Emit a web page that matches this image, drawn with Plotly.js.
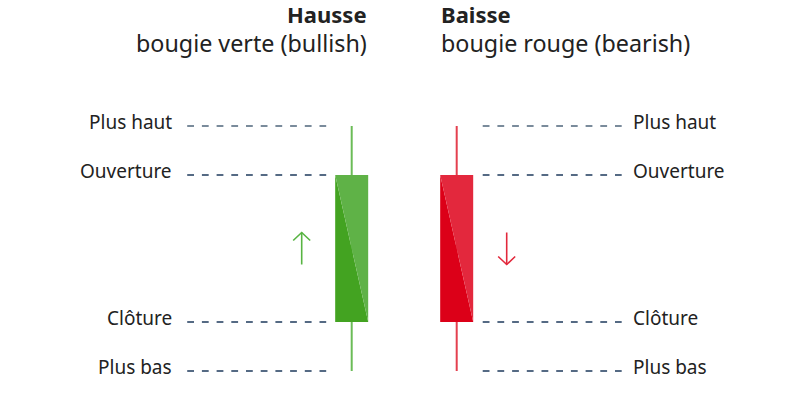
<!DOCTYPE html>
<html>
<head>
<meta charset="utf-8">
<script src="https://cdn.plot.ly/plotly-3.0.1.min.js"></script>
<style>
  html, body { margin: 0; padding: 0; background: #fff; }
  #chart { width: 800px; height: 400px; }
</style>
</head>
<body>
<div id="chart"></div>
<script>
// Candle anatomy: one bullish and one bearish candle with labelled price levels.

const levelLabels = ["Plus haut", "Ouverture", "Clôture", "Plus bas"];
const levelValues = [10, 9, 6, 5];

const candleNames = ["Hausse", "Baisse"];
const candleSubtitles = ["bougie verte (bullish)", "bougie rouge (bearish)"];
const candlePos = [0, 1];
const candleHigh = [10, 10];
const candleOpen = [9, 9];
const candleClose = [6, 6];
const candleLow = [5, 5];
const candleDir = ["up", "down"];

// scale helpers: px per axis unit (x: candle spacing, y: one price unit)
const PX_X = 105;
const PX_Y = 49;
const px = (v) => v / PX_X;
const py = (v) => v / PX_Y;

const FONT = "'Noto Sans', 'Open Sans', sans-serif";
const TEXT = "#222";

const STYLE = [
  { dark: "#43a321", light: "#5fb247", wick: "#6bbc57", arrow: "#58b443" },
  { dark: "#dc0018", light: "#e3283d", wick: "#e4404f", arrow: "#e2283c" },
];

const traces = [];

candlePos.forEach((c, i) => {
  const s = STYLE[i];
  const half = px(16.5);
  const L = c - half;
  const R = c + half;
  const top = Math.max(candleOpen[i], candleClose[i]);
  const bot = Math.min(candleOpen[i], candleClose[i]);

  // wick
  traces.push({
    x: [c, c],
    y: [candleLow[i], candleHigh[i]],
    type: "scatter",
    mode: "lines",
    line: { color: s.wick, width: 2 },
    hoverinfo: "skip",
  });
  // body: darker lower-left half, lighter upper-right half
  traces.push({
    x: [L, L, R, L],
    y: [top, bot, bot, top],
    type: "scatter",
    mode: "lines",
    fill: "toself",
    fillcolor: s.dark,
    line: { width: 0 },
    hoverinfo: "skip",
  });
  traces.push({
    x: [L, R, R, L],
    y: [top, top, bot, top],
    type: "scatter",
    mode: "lines",
    fill: "toself",
    fillcolor: s.light,
    line: { width: 0 },
    hoverinfo: "skip",
  });

  // arrow next to the body
  const side = i === 0 ? -1 : 1;
  const ax = c + side * px(50);
  const mid = (top + bot) / 2;
  const h = py(16);
  const tipY = candleDir[i] === "up" ? mid + h : mid - h;
  const back = candleDir[i] === "up" ? -py(8) : py(8);
  traces.push({
    x: [ax, ax, null, ax - px(8.5), ax, ax + px(8.5)],
    y: [mid - h, mid + h, null, tipY + back, tipY, tipY + back],
    type: "scatter",
    mode: "lines",
    line: { color: s.arrow, width: 1.6 },
    hoverinfo: "skip",
  });

  // dashed level guides
  levelValues.forEach((v, k) => {
    const x0 = i === 0 ? c - px(164.5) : c + px(26);
    const x1 = i === 0 ? c - px(25.5) : c + px(165);
    traces.push({
      x: [x0, x1],
      y: [v, v],
      type: "scatter",
      mode: "lines",
      line: { color: k === 0 ? "#4f657b" : "#1e3a5c", width: 1.3, dash: "6.8px,7.9px" },
      hoverinfo: "skip",
    });
  });
});

const annotations = [];

levelLabels.forEach((lab, k) => {
  annotations.push({
    x: candlePos[0] - px(178.5),
    y: levelValues[k],
    xref: "x",
    yref: "y",
    xanchor: "right",
    yanchor: "middle",
    yshift: 4.5,
    text: lab,
    showarrow: false,
    borderpad: 0,
    font: { family: FONT, size: 19, color: TEXT },
  });
  annotations.push({
    x: candlePos[1] + px(175),
    y: levelValues[k],
    xref: "x",
    yref: "y",
    xanchor: "left",
    yanchor: "middle",
    yshift: 4.5,
    text: lab,
    showarrow: false,
    borderpad: 0,
    font: { family: FONT, size: 19, color: TEXT },
  });
});

candlePos.forEach((c, i) => {
  const edge = i === 0 ? c + px(16.5) : c - px(16.5);
  const anchor = i === 0 ? "right" : "left";
  annotations.push({
    x: edge,
    y: 1 - 14 / 400,
    xref: "x",
    yref: "paper",
    xanchor: anchor,
    yanchor: "middle",
    text: "<b>" + candleNames[i] + "</b>",
    showarrow: false,
    borderpad: 0,
    font: { family: FONT, size: 22, color: TEXT },
  });
  annotations.push({
    x: edge,
    y: 1 - 43 / 400,
    xref: "x",
    yref: "paper",
    xanchor: anchor,
    yanchor: "middle",
    text: candleSubtitles[i],
    showarrow: false,
    borderpad: 0,
    font: { family: FONT, size: 23.3, color: TEXT },
  });
});

const layout = {
  width: 800,
  height: 400,
  margin: { l: 0, r: 0, t: 0, b: 0 },
  paper_bgcolor: "#fff",
  plot_bgcolor: "#fff",
  showlegend: false,
  xaxis: { range: [-351.7 / PX_X, 448.3 / PX_X], visible: false, fixedrange: true },
  yaxis: { range: [10 - 274 / PX_Y, 10 + 126 / PX_Y], visible: false, fixedrange: true },
  annotations,
};

Plotly.newPlot("chart", traces, layout, { staticPlot: true, displayModeBar: false });
</script>
</body>
</html>
